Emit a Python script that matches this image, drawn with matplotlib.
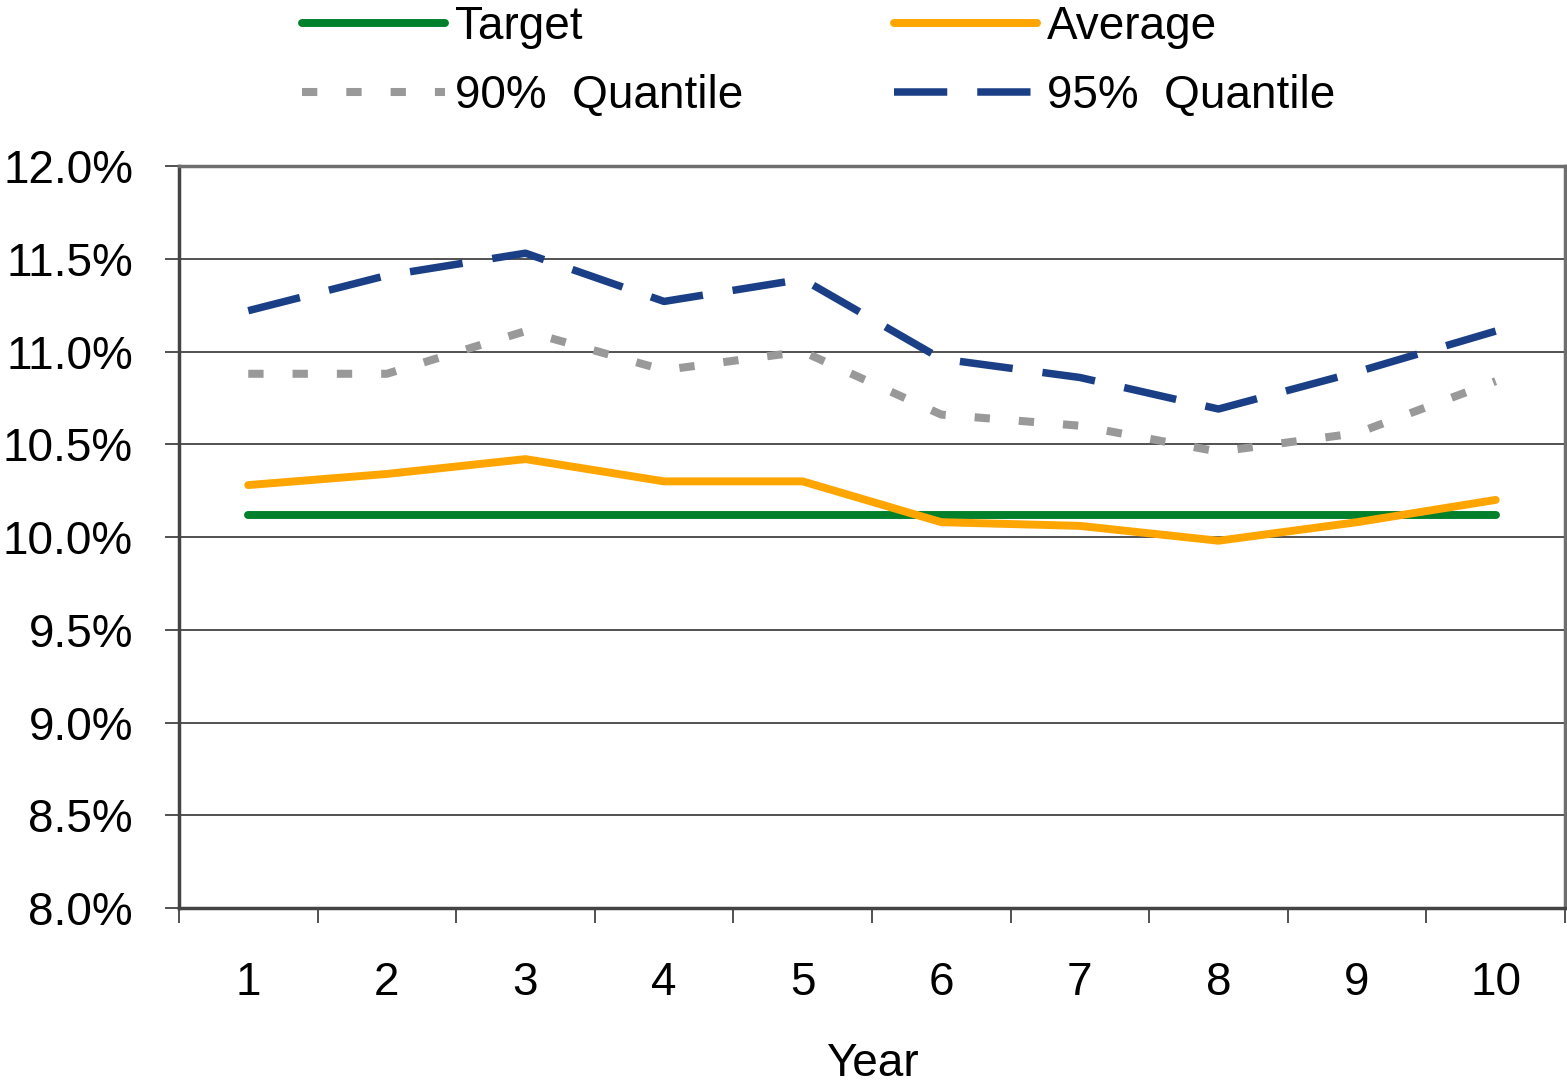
import matplotlib.pyplot as plt
import numpy as np

# data (values in %)
years = [1, 2, 3, 4, 5, 6, 7, 8, 9, 10]
target = [10.12] * 10
average = [10.28, 10.34, 10.42, 10.30, 10.30, 10.08, 10.06, 9.98, 10.08, 10.20]
q90 = [10.88, 10.88, 11.11, 10.90, 11.00, 10.66, 10.60, 10.46, 10.56, 10.84]
q95 = [11.22, 11.41, 11.53, 11.27, 11.39, 10.96, 10.86, 10.69, 10.89, 11.11]
yticks = [8.0, 8.5, 9.0, 9.5, 10.0, 10.5, 11.0, 11.5, 12.0]

plt.rcParams['font.family'] = ['Liberation Sans', 'DejaVu Sans']
fs = 33

fig = plt.figure(figsize=(15.67, 10.85), dpi=100)
ax = fig.add_axes([0.1142, 0.1631, 0.8845, 0.6839])

x = np.array(years)
l1, = ax.plot(x, target, color='#00802B', lw=5.7, solid_capstyle='round', label='Target')
l2, = ax.plot(x, average, color='#FFA500', lw=5.7, solid_capstyle='round', label='Average')
l3, = ax.plot(x, q90, color='#999999', lw=5.8, dashes=(1.9, 3.6), dash_capstyle='butt', label='90%  Quantile')
l4, = ax.plot(x, q95, color='#1A3F86', lw=5.4, dashes=(7.1, 4.0), dash_capstyle='butt', label='95%  Quantile')

ax.set_xlim(0.5, 10.5)
ax.set_ylim(8.0, 12.0)
ax.set_yticks(yticks)
ax.set_yticklabels(['%.1f%%' % v for v in yticks])
ax.set_xticks(years)
ax.set_xticklabels([str(y) for y in years])
ax.set_xticks(np.arange(0.5, 11, 1), minor=True)
ax.tick_params(axis='x', which='major', length=0, pad=38, labelsize=fs)
ax.tick_params(axis='x', which='minor', length=11, width=1.2, color='#333333')
ax.tick_params(axis='y', length=10, width=1.2, color='#333333', labelsize=fs, pad=23)
ax.grid(axis='y', color='#333333', lw=1.2)
ax.set_axisbelow(True)

for side in ['top', 'right']:
    ax.spines[side].set_color('#6e6e6e')
    ax.spines[side].set_linewidth(2.5)
for side in ['left', 'bottom']:
    ax.spines[side].set_color('#444444')
    ax.spines[side].set_linewidth(2.5)

ax.set_xlabel('Year', fontsize=fs, labelpad=27)

# column-wise fill: Target / 90% in first column, Average / 95% in second
fig.legend(handles=[l1, l3, l2, l4], loc='upper left', bbox_to_anchor=(0.1927, 0.995),
           ncol=2, frameon=False, fontsize=fs, handlelength=3.12, handletextpad=0.22,
           columnspacing=3.28, labelspacing=0.53, borderpad=0, borderaxespad=0)

fig.savefig('out.png', dpi=100)
